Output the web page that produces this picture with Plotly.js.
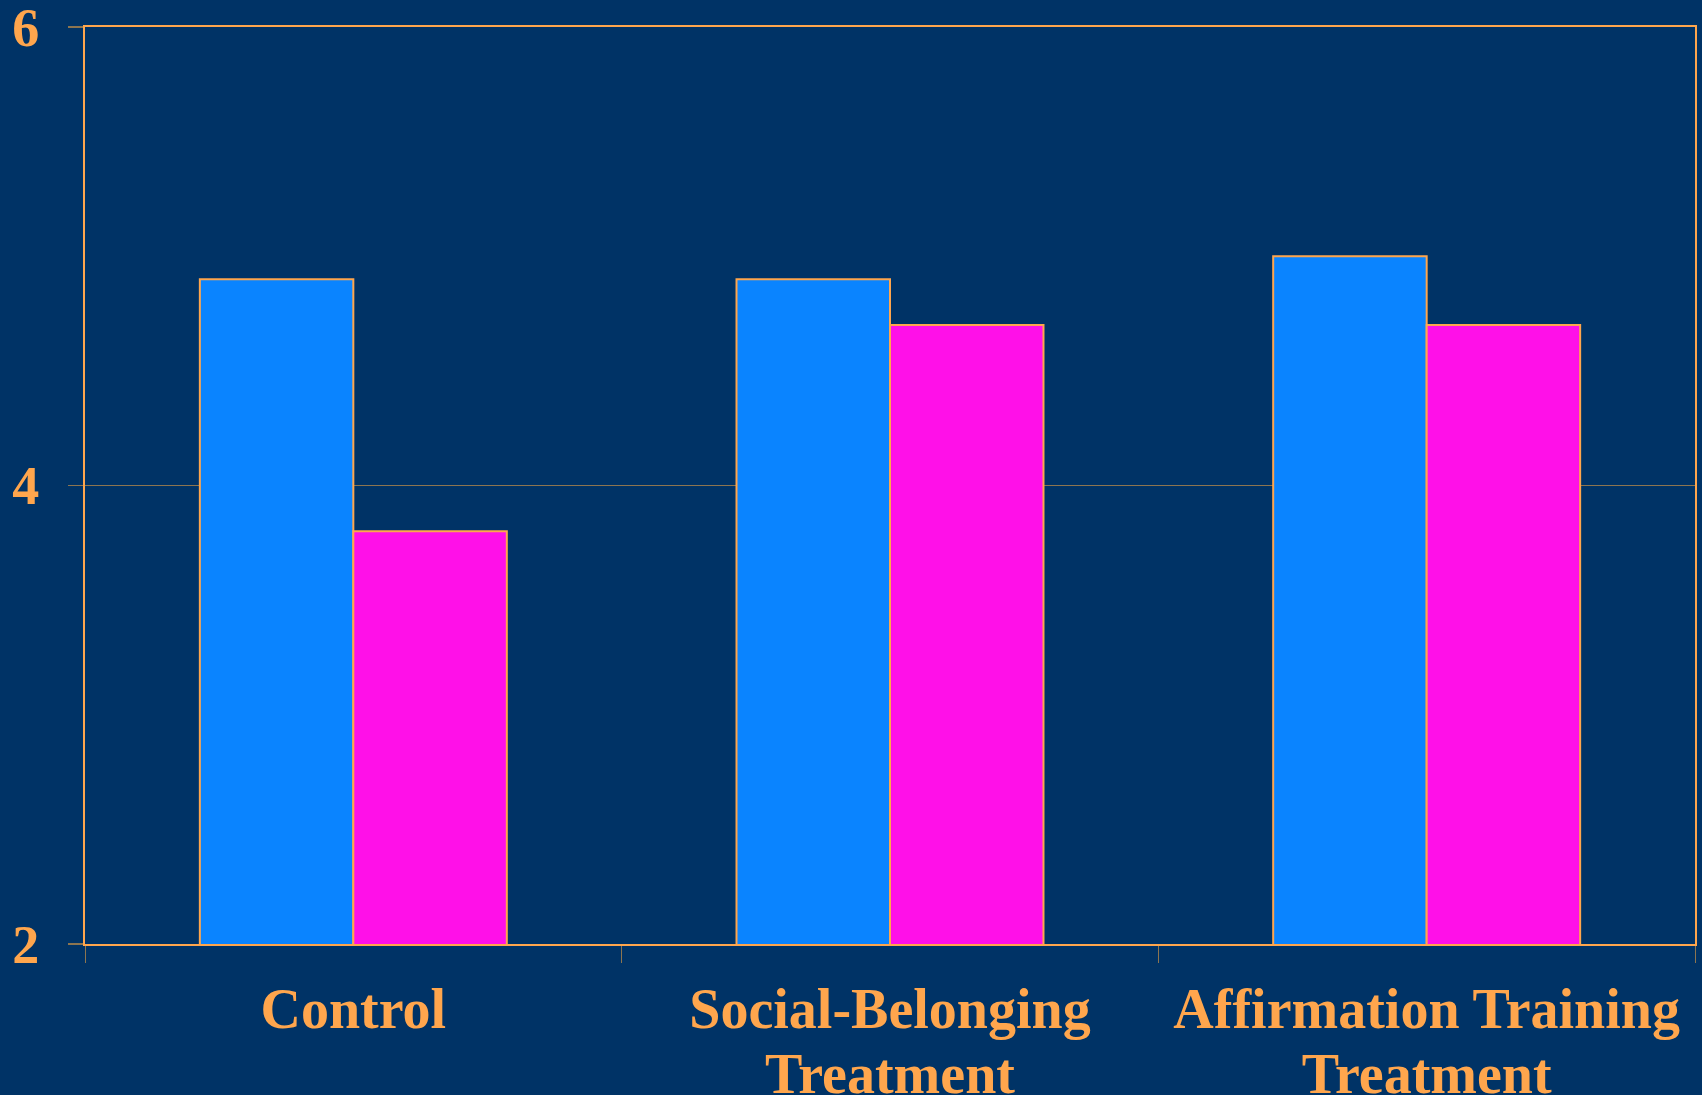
<!DOCTYPE html>
<html>
<head>
<meta charset="utf-8">
<script src="https://cdn.plot.ly/plotly-3.0.1.min.js"></script>
<style>html,body{margin:0;padding:0;background:#003366;}</style>
</head>
<body>
<div id="chart" style="width:1702px;height:1095px;"></div>
<script>
const categories = ["Control", "Social-Belonging\nTreatment", "Affirmation Training\nTreatment"];
const seriesA = [4.9, 4.9, 5.0];
const seriesB = [3.8, 4.7, 4.7];
const yTicks = [2, 4, 6];

const orange = "#FFA64D";
const muted = "#8C7550";
const fam = "Liberation Serif, Times New Roman, serif";
const yfont = {family: fam, size: 54, color: orange, weight: 700};
const xfont = {family: fam, size: 50, color: orange, weight: 700};

const xTickText = categories.map(c => c.split("\n").map(l => '<span style="font-size:56px">' + l + '</span>').join("<br>"));

const traces = [
  {type: "bar", x: categories, y: seriesA, marker: {color: "#0A84FF", line: {color: orange, width: 2}}, name: "A"},
  {type: "bar", x: categories, y: seriesB, marker: {color: "#FF10E8", line: {color: orange, width: 2}}, name: "B"}
];

const layout = {
  width: 1702, height: 1095,
  paper_bgcolor: "#003366", plot_bgcolor: "#003366",
  margin: {l: 85, r: 7, t: 27, b: 151},
  showlegend: false,
  barmode: "group", bargap: 0.428, bargroupgap: 0,
  font: yfont,
  xaxis: {
    type: "category", tickson: "boundaries", ticks: "outside", ticklen: 17, tickwidth: 1, tickcolor: muted,
    tickvals: categories, ticktext: xTickText,
    showgrid: false, showline: true, mirror: true, linecolor: orange, linewidth: 2,
    tickfont: xfont, automargin: false, ticklabelstandoff: 22, ticklabeloverflow: "allow"
  },
  yaxis: {
    range: [2, 6], tickvals: yTicks, ticktext: yTicks.map(String), ticks: "outside", ticklen: 15, tickwidth: 1.5, tickcolor: muted,
    showgrid: true, gridcolor: muted, gridwidth: 1.5, zeroline: false,
    showline: true, mirror: true, linecolor: orange, linewidth: 2,
    tickfont: yfont, automargin: false, ticklabelstandoff: 18, ticklabeloverflow: "allow"
  }
};

Plotly.newPlot("chart", traces, layout, {staticPlot: true});
</script>
</body>
</html>
